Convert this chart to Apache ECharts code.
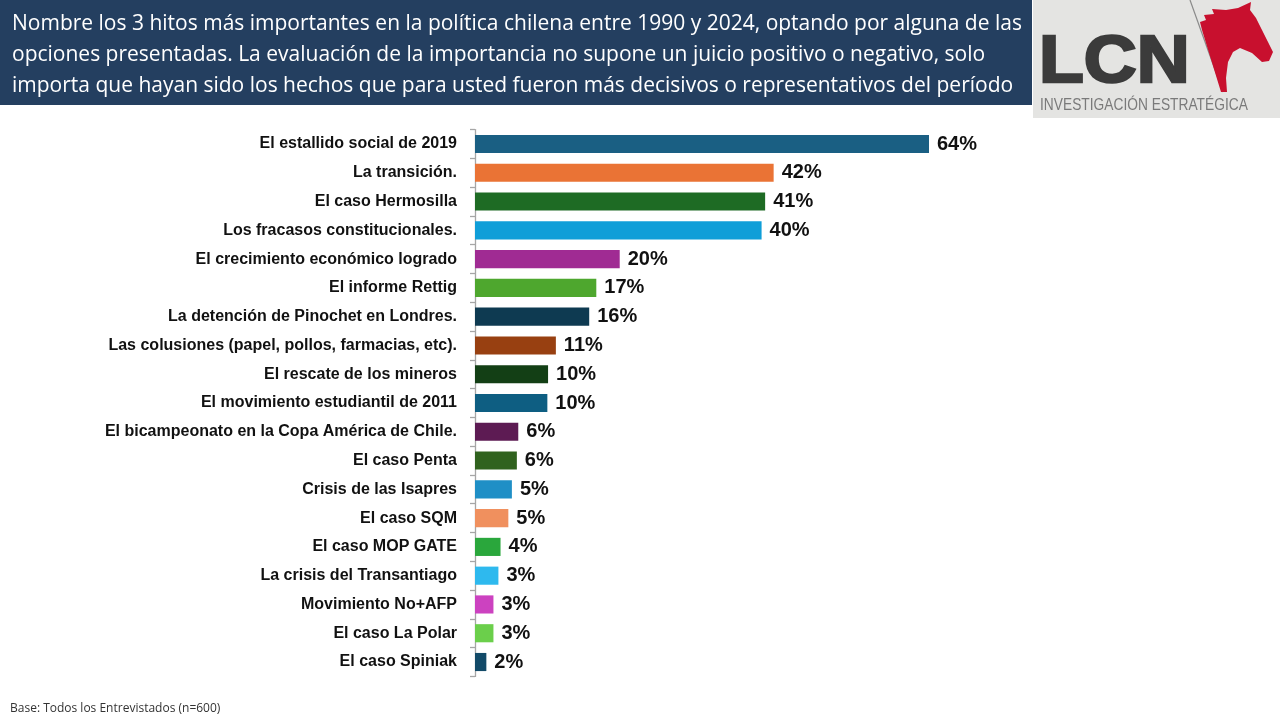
<!DOCTYPE html>
<html>
<head>
<meta charset="utf-8">
<style>
  html, body { margin: 0; padding: 0; background: #ffffff; }
  #chart { width: 1280px; height: 720px; }
</style>
<script src="https://cdn.jsdelivr.net/npm/echarts@6/dist/echarts.min.js"></script>
</head>
<body>
<div id="chart"></div>
<script>
const titleLines = [
  'Nombre los 3 hitos más importantes en la política chilena entre 1990 y 2024, optando por alguna de las',
  'opciones presentadas. La evaluación de la importancia no supone un juicio positivo o negativo, solo',
  'importa que hayan sido los hechos que para usted fueron más decisivos o representativos del período'
];
const footnote = 'Base: Todos los Entrevistados (n=600)';

const categories = [
  'El estallido social de 2019',
  'La transición.',
  'El caso Hermosilla',
  'Los fracasos constitucionales.',
  'El crecimiento económico logrado',
  'El informe Rettig',
  'La detención de Pinochet en Londres.',
  'Las colusiones (papel, pollos, farmacias, etc).',
  'El rescate de los mineros',
  'El movimiento estudiantil de 2011',
  'El bicampeonato en la Copa América de Chile.',
  'El caso Penta',
  'Crisis de las Isapres',
  'El caso SQM',
  'El caso MOP GATE',
  'La crisis del Transantiago',
  'Movimiento No+AFP',
  'El caso La Polar',
  'El caso Spiniak'
];
const values = [64, 42.1, 40.9, 40.4, 20.4, 17.1, 16.1, 11.4, 10.3, 10.2, 6.1, 5.9, 5.2, 4.7, 3.6, 3.3, 2.6, 2.6, 1.6];
const colors = [
  '#1A5F83', '#EA7335', '#1E6B24', '#0F9ED8', '#A02B93', '#4EA72E', '#0E3A51',
  '#984011', '#133F15', '#0E5E82', '#5D1B53', '#30621E', '#1F8FC6', '#F0905E',
  '#2AA73C', '#2EB9EE', '#CC42C0', '#6BCF4B', '#124A68'
];

const chart = echarts.init(document.getElementById('chart'), null, { renderer: 'canvas' });

const axisLeft = 475;
const xMax = 70;
const pxPerUnit = 454 / 64;
const gridWidth = xMax * pxPerUnit;

const titleGraphics = titleLines.map((t, i) => ({
  type: 'text',
  left: 12,
  top: 14 + i * 31,
  style: {
    text: t,
    fill: '#ffffff',
    font: '21px "Open Sans", "Noto Sans", sans-serif'
  }
}));

chart.setOption({
  animation: false,
  backgroundColor: '#ffffff',
  grid: {
    left: axisLeft,
    width: gridWidth,
    top: 129.6,
    bottom: 43.6,
    containLabel: false
  },
  xAxis: {
    type: 'value',
    min: 0,
    max: xMax,
    show: false,
    splitLine: { show: false }
  },
  yAxis: {
    type: 'category',
    data: categories,
    inverse: true,
    axisLine: { show: true, lineStyle: { color: '#A6A6A6', width: 1.3 } },
    axisTick: { show: true, length: 5, lineStyle: { color: '#A6A6A6', width: 1.3 } },
    axisLabel: {
      margin: 18,
      color: '#111111',
      fontFamily: '"Liberation Sans", Arial, sans-serif',
      fontWeight: 'bold',
      fontSize: 16
    }
  },
  series: [{
    type: 'bar',
    barCategoryGap: '37%',
    data: values.map((v, i) => ({ value: v, itemStyle: { color: colors[i] } })),
    label: {
      show: true,
      position: 'right',
      distance: 8,
      color: '#111111',
      fontFamily: '"Liberation Sans", Arial, sans-serif',
      fontWeight: 'bold',
      fontSize: 20,
      formatter: p => Math.round(p.value) + '%'
    }
  }],
  graphic: [
    { type: 'rect', shape: { x: 0, y: 0, width: 1032, height: 105 }, style: { fill: '#243F60' } },
    ...titleGraphics,
    { type: 'rect', shape: { x: 1033, y: 0, width: 247, height: 118 }, style: { fill: '#E4E4E2' } },
    { type: 'line', shape: { x1: 1190, y1: 0, x2: 1223, y2: 92 }, style: { stroke: '#8A8A8A', lineWidth: 1.2 } },
    {
      type: 'text', x: 1039, y: 31,
      scaleX: 1.11,
      style: {
        text: 'LCN', fill: '#3B3B3B', stroke: '#3B3B3B', lineWidth: 2.5,
        font: 'bold 66px "Liberation Sans", Arial, sans-serif'
      }
    },
    {
      type: 'polygon',
      shape: {
        points: [
          [1202, 30], [1200, 22], [1206, 20], [1204, 15], [1214, 14], [1212, 9], [1226, 10],
          [1238, 8], [1251, 2], [1250, 10], [1256, 18], [1262, 30], [1268, 42], [1273, 52],
          [1269, 61], [1262, 62], [1252, 53], [1240, 48], [1233, 52], [1228, 62], [1226, 78],
          [1227, 92], [1221, 92]
        ]
      },
      style: { fill: '#C8102E' }
    },
    {
      type: 'text', x: 1040, y: 97,
      scaleX: 0.81,
      style: { text: 'INVESTIGACIÓN ESTRATÉGICA', fill: '#7A7A7A', font: '17px "Liberation Sans", Arial, sans-serif' }
    },
    {
      type: 'text', left: 10, top: 703,
      style: { text: footnote, fill: '#333333', font: '12px "Open Sans", "Noto Sans", sans-serif' }
    }
  ]
});
</script>
</body>
</html>
